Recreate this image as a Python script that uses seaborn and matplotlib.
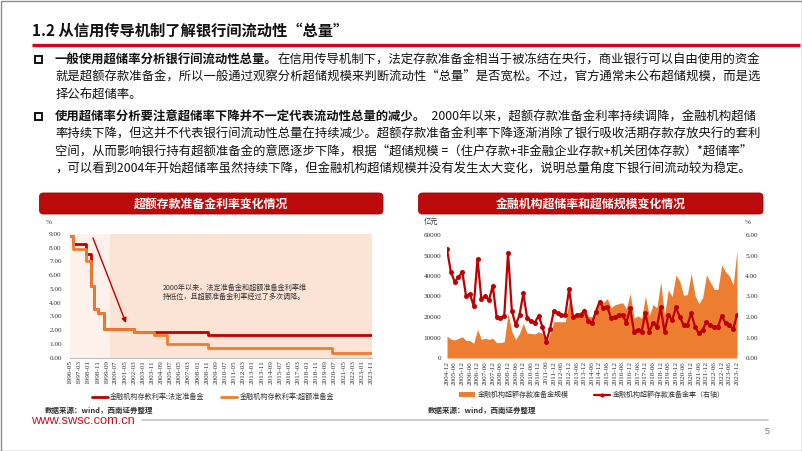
import numpy as np
import pandas as pd
import matplotlib
matplotlib.use("Agg")
import matplotlib.pyplot as plt
import seaborn as sns
from matplotlib.patches import FancyBboxPatch, Rectangle, Patch
from matplotlib.lines import Line2D

# ---------------- data ----------------
# left chart: step changes of deposit rates on reserves (%)
rate_change_dates = ["1996-05-01", "1996-08-23", "1997-10-23", "1998-03-21", "1998-07-01",
                     "1998-12-07", "1999-06-10", "2002-02-21", "2003-12-21", "2005-03-17",
                     "2008-11-27", "2020-04-07", "2023-11-30"]
statutory_rate = [8.82, 8.28, 7.56, 5.22, 3.51, 3.24, 2.07, 1.89, 1.89, 1.89, 1.62, 1.62, 1.62]
excess_rate = [8.82, 7.92, 7.02, 5.22, 3.51, 3.24, 2.07, 1.89, 1.62, 0.99, 0.72, 0.35, 0.35]
left_tick_labels = ["1996-05", "1997-03", "1998-01", "1998-11", "1999-09", "2000-07", "2001-05",
                    "2002-03", "2003-01", "2003-11", "2004-09", "2005-07", "2006-05", "2007-03",
                    "2008-01", "2008-11", "2009-09", "2010-07", "2011-05", "2012-03", "2013-01",
                    "2013-11", "2014-09", "2015-07", "2016-05", "2017-03", "2018-01", "2018-11",
                    "2019-09", "2020-07", "2021-05", "2022-03", "2023-01", "2023-11"]
left_yticks = [0, 1, 2, 3, 4, 5, 6, 7, 8, 9]

# right chart: quarterly excess reserve scale (亿元) and excess reserve ratio (%)
quarters = [p.strftime("%Y-%m") for p in pd.period_range("2004Q4", "2023Q4", freq="Q").to_timestamp(how="end")]
excess_reserve_scale = [10700, 9200, 8800, 9600, 10400, 8500, 8500, 7200, 14000, 9100, 9600, 9100,
                        9600, 7500, 7500, 8000, 21800, 12800, 9000, 12000, 16900, 12000, 12000, 11700,
                        12800, 12000, 6500, 12000, 17700, 17700, 17700, 17700, 27500, 21000, 22000, 22500,
                        24500, 20500, 20000, 24000, 28500, 27000, 29000, 24500, 26000, 26500, 27000, 24000,
                        31500, 19500, 20500, 19500, 30200, 20500, 26000, 24500, 37200, 21000, 33200, 30000,
                        40500, 37500, 30500, 31000, 41300, 30500, 26500, 29500, 40500, 37000, 33500, 33500,
                        45400, 42100, 40000, 35600, 52700]
excess_reserve_ratio = [5.30, 4.21, 3.72, 3.93, 4.21, 3.02, 3.12, 2.54, 4.83, 2.88, 3.02, 2.83,
                        3.53, 2.00, 1.95, 2.05, 5.14, 2.29, 1.61, 2.10, 3.15, 1.95, 1.80, 1.72,
                        2.06, 1.53, 0.80, 1.41, 2.29, 2.18, 2.10, 2.10, 3.35, 2.01, 2.10, 2.10,
                        2.31, 1.82, 1.69, 2.26, 2.75, 2.42, 2.50, 1.95, 2.00, 2.10, 2.10, 1.72,
                        2.42, 1.29, 1.37, 1.29, 2.18, 1.29, 1.69, 1.53, 2.47, 1.29, 2.10, 1.85,
                        2.47, 2.00, 1.61, 1.61, 2.18, 1.53, 1.20, 1.37, 1.77, 1.61, 1.53, 1.53,
                        2.05, 1.69, 1.61, 1.40, 2.10]
right_tick_labels = ["2004-12", "2005-06", "2005-12", "2006-06", "2006-12", "2007-06", "2007-12",
                     "2008-06", "2008-12", "2009-06", "2009-12", "2010-06", "2010-12", "2011-06",
                     "2011-12", "2012-06", "2012-12", "2013-06", "2013-12", "2014-06", "2014-12",
                     "2015-06", "2015-12", "2016-06", "2016-12", "2017-06", "2017-12", "2018-06",
                     "2018-12", "2019-06", "2019-12", "2020-06", "2020-12", "2021-06", "2021-12",
                     "2022-06", "2022-12", "2023-06", "2023-12"]
right_yticks_left = [0, 10000, 20000, 30000, 40000, 50000, 60000]
right_yticks_right = [0, 1, 2, 3, 4, 5, 6]

# ---------------- style ----------------
sns.set_style("white")
CJK = ["Noto Sans CJK SC", "DejaVu Sans"]
plt.rcParams["font.family"] = CJK
plt.rcParams["axes.unicode_minus"] = False
RED = "#c00000"
ORANGE = "#ed7d31"
NUMFONT = "Liberation Serif"

W, H = 802, 451
fig = plt.figure(figsize=(W / 100, H / 100), dpi=100)
fig.patch.set_facecolor("white")


def rect(x0, y0, x1, y1):
    return [x0 / W, 1 - y1 / H, (x1 - x0) / W, (y1 - y0) / H]


# ---------------- left chart ----------------
dfL = pd.DataFrame({"date": pd.to_datetime(rate_change_dates),
                    "statutory": statutory_rate, "excess": excess_rate})
axL = fig.add_axes(rect(70, 234, 372, 357.5))
start, end = dfL["date"].iloc[0], dfL["date"].iloc[-1]
axL.axvspan(start, pd.Timestamp("2000-01-01"), color="#fdf1eb", lw=0, zorder=0)
axL.axvspan(pd.Timestamp("2000-01-01"), end, color="#fbe3d6", lw=0, zorder=0)
sns.lineplot(data=dfL, x="date", y="statutory", ax=axL, color=RED, lw=2.0,
             drawstyle="steps-post", estimator=None, zorder=3)
sns.lineplot(data=dfL, x="date", y="excess", ax=axL, color=ORANGE, lw=2.0,
             drawstyle="steps-post", estimator=None, zorder=4)
axL.set_xlim(start, end)
axL.set_ylim(0, 9)
axL.set_yticks(left_yticks)
axL.set_yticklabels([f"{v:.2f}" for v in left_yticks])
axL.set_xticks(pd.to_datetime(left_tick_labels))
axL.set_xticklabels(left_tick_labels, rotation=90)
axL.tick_params(axis="both", length=0, labelsize=5.2, colors="#333333")
axL.tick_params(axis="y", pad=6)
axL.tick_params(axis="x", pad=2)
axL.set_xlabel("")
axL.set_ylabel("")
for s in ["top", "right", "left"]:
    axL.spines[s].set_visible(False)
axL.spines["bottom"].set_color("#bfbfbf")
axL.spines["bottom"].set_linewidth(0.8)
for t in axL.get_xticklabels() + axL.get_yticklabels():
    t.set_fontfamily(NUMFONT)
axL.patch.set_alpha(0)
axL.legend([Line2D([], [], color=RED, lw=2), Line2D([], [], color=ORANGE, lw=2)],
           ["金融机构存款利率:法定准备金", "金融机构存款利率:超额准备金"],
           loc="center", bbox_to_anchor=(213 / W, 1 - 397 / H), bbox_transform=fig.transFigure,
           ncol=2, frameon=False, fontsize=5.1, handlelength=2.3, handletextpad=0.3,
           columnspacing=2.3, labelcolor="#333333")

# ---------------- right chart ----------------
dfR = pd.DataFrame({"quarter": quarters, "scale": excess_reserve_scale, "ratio": excess_reserve_ratio})
dfR["idx"] = np.arange(len(dfR))
axR = fig.add_axes(rect(447, 235, 737, 358))
axR.fill_between(dfR["idx"], dfR["scale"], color=ORANGE, lw=0, zorder=2)
axR.set_xlim(dfR["idx"].iloc[0], dfR["idx"].iloc[-1])
axR.set_ylim(0, 60000)
axR.set_yticks(right_yticks_left)
axR.set_yticklabels([str(v) for v in right_yticks_left])
tick_pos = [quarters.index(l) for l in right_tick_labels]
axR.set_xticks(tick_pos)
axR.set_xticklabels(right_tick_labels, rotation=90)
axR.tick_params(axis="both", length=0, labelsize=5.2, colors="#333333")
axR.tick_params(axis="y", pad=4)
axR.tick_params(axis="x", pad=2)
for s in axR.spines.values():
    s.set_visible(False)

axR2 = axR.twinx()
sns.lineplot(data=dfR, x="idx", y="ratio", ax=axR2, color=RED, lw=1.6, marker="o",
             markersize=3.6, markeredgewidth=0, estimator=None, zorder=5)
axR2.set_ylim(0, 6)
axR2.set_yticks(right_yticks_right)
axR2.set_yticklabels([f"{v:.2f}" for v in right_yticks_right])
axR2.tick_params(axis="y", length=0, labelsize=5.2, colors="#333333", pad=6)
axR2.set_xlabel("")
axR2.set_ylabel("")
axR.set_xlabel("")
axR.set_ylabel("")
for s in axR2.spines.values():
    s.set_visible(False)
for t in axR.get_xticklabels() + axR.get_yticklabels() + axR2.get_yticklabels():
    t.set_fontfamily(NUMFONT)
axR2.legend([Patch(color=ORANGE, lw=0),
             Line2D([], [], color=RED, lw=1.6, marker="o", markersize=3, markeredgewidth=0)],
            ["金融机构超额存款准备金规模", "金融机构超额存款准备金率（右轴）"],
            loc="center", bbox_to_anchor=(592 / W, 1 - 395 / H), bbox_transform=fig.transFigure,
            ncol=2, frameon=False, fontsize=5.0, handlelength=2.3, handletextpad=0.4,
            columnspacing=3.6, labelcolor="#333333")

# ---------------- overlay (slide decorations, pixel coords) ----------------
ov = fig.add_axes([0, 0, 1, 1], zorder=10)
ov.set_xlim(0, W)
ov.set_ylim(H, 0)
ov.axis("off")
ov.patch.set_alpha(0)

# border
ov.add_patch(Rectangle((0.5, 0.5), W - 1, H - 1, fill=False, ec="#8c8c8c", lw=1.0))

# title
ov.text(32, 31, "1.2 从信用传导机制了解银行间流动性“总量”", fontsize=11, fontweight="bold",
        color="#111111", va="center", ha="left", family=CJK)
ov.plot([32, 800], [44.5, 44.5], color="#d9001b", lw=2.4, solid_capstyle="butt")

# bullets
FS = 8.9
renderer = fig.canvas.get_renderer()


def line(x, y, bold, rest):
    xx = x
    if bold:
        t = ov.text(xx, y, bold, fontsize=FS, fontweight="bold", color="#111111",
                    va="center", ha="left", family=CJK)
        xx += t.get_window_extent(renderer).width
    if rest:
        ov.text(xx, y, rest, fontsize=FS, color="#111111", va="center", ha="left", family=CJK)


for by in (60, 117):
    ov.add_patch(Rectangle((34.5, by - 3.8), 7, 7, fill=False, ec="#111111", lw=1.4))

TX = 55
line(TX, 60, "一般使用超储率分析银行间流动性总量。",
     "在信用传导机制下，法定存款准备金相当于被冻结在央行，商业银行可以自由使用的资金")
line(TX, 77.5, "", "就是超额存款准备金，所以一般通过观察分析超储规模来判断流动性“总量”是否宽松。不过，官方通常未公布超储规模，而是选")
line(TX, 95, "", "择公布超储率。")
line(TX, 117, "使用超储率分析要注意超储率下降并不一定代表流动性总量的减少。",
     "  2000年以来，超额存款准备金利率持续调降，金融机构超储")
line(TX, 134.5, "", "率持续下降，但这并不代表银行间流动性总量在持续减少。超额存款准备金利率下降逐渐消除了银行吸收活期存款存放央行的套利")
line(TX, 152, "", "空间，从而影响银行持有超额准备金的意愿逐步下降，根据“超储规模 =（住户存款+非金融企业存款+机关团体存款）*超储率”")
line(TX, 169, "", "，可以看到2004年开始超储率虽然持续下降，但金融机构超储规模并没有发生太大变化，说明总量角度下银行间流动较为稳定。")

# chart header boxes
for (x0, x1, label) in [(39.5, 383, "超额存款准备金利率变化情况"),
                        (418.5, 763, "金融机构超储率和超储规模变化情况")]:
    ov.add_patch(FancyBboxPatch((x0 + 3, 193 + 3), x1 - x0 - 6, 21 - 6,
                                boxstyle="round,pad=3,rounding_size=4",
                                fc="#bb0a0a", ec="#9e0000", lw=0.6))
    ov.text((x0 + x1) / 2, 203.8, label, fontsize=8.6, fontweight="bold", color="white",
            ha="center", va="center", family=CJK)

# axis unit labels
ov.text(46, 222, "%", fontsize=5.2, color="#333333", ha="left", va="center", family=NUMFONT)
ov.text(424, 222, "亿元", fontsize=5.2, color="#333333", ha="left", va="center", family=CJK)
ov.text(745, 222, "%", fontsize=5.2, color="#333333", ha="left", va="center", family=NUMFONT)

# annotation in left chart
ov.text(163, 288, "2000年以来，法定准备金和超额准备金利率维", fontsize=5.1, color="#333333",
        ha="left", va="center", family=CJK)
ov.text(163, 297, "持低位，且超额准备金利率经过了多次调降。", fontsize=5.1, color="#333333",
        ha="left", va="center", family=CJK)
ov.annotate("", xy=(126, 323), xytext=(93, 238),
            arrowprops=dict(arrowstyle="-|>", color=RED, lw=1.0, mutation_scale=7,
                            shrinkA=0, shrinkB=0))

# sources & footer
ov.text(45, 410, "数据来源：wind，西南证券整理", fontsize=5.4, fontweight="bold",
        color="#333333", ha="left", va="center", family=CJK, style="italic")
ov.text(428, 410, "数据来源：wind，西南证券整理", fontsize=5.4, fontweight="bold",
        color="#333333", ha="left", va="center", family=CJK, style="italic")
ov.text(31, 421, "www.swsc.com.cn", fontsize=9.3, color="#d0101b", ha="left", va="center",
        family="Liberation Sans")
ov.plot([142, 768], [420, 420], color="#cccccc", lw=1.4)
ov.text(767, 431, "5", fontsize=6.5, color="#777777", ha="center", va="center", family="Liberation Sans")

fig.savefig("out.png", dpi=100, facecolor="white")
